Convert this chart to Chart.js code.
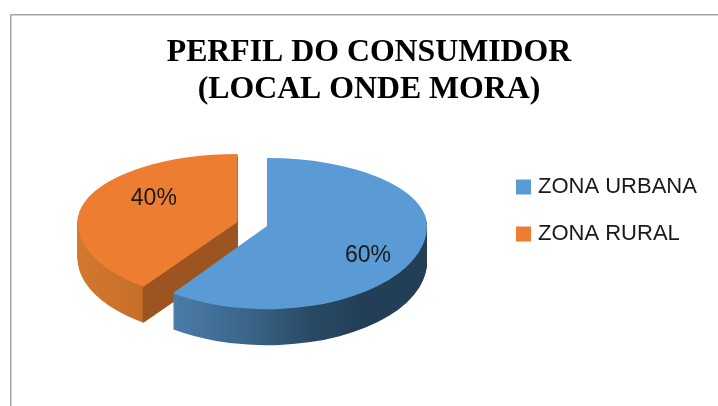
<!DOCTYPE html>
<html><head><meta charset="utf-8">
<style>html,body{margin:0;padding:0;background:#fff}canvas{display:block;filter:blur(0.4px)}</style>
<script src="https://cdn.jsdelivr.net/npm/chart.js@4"></script></head>
<body><div style="width:718px;height:406px"><canvas id="c" width="718" height="406"></canvas></div>
<script>
const titleLines = ["PERFIL DO CONSUMIDOR", "(LOCAL ONDE MORA)"];
const categories = ["ZONA URBANA", "ZONA RURAL"];
const values = [60, 40];
const sliceColors = ["#5b9bd5", "#ed7d31"];

const view = {cx:267, cy:226, up:0.425, down:[0.52,0.5], depth:36, explode:[0,31], nudge:[13,-12], labelAt:[0.664,0.55]};

const pie3d = {
  id:"pie3d",
  afterLayout(chart){
    chart.legend.left = 495;
    chart.legend.top = 151;
  },
  beforeDraw(chart){
    const c = chart.ctx;
    c.fillStyle="#a6a6a6";
    c.fillRect(10,14,1.5,392);
    c.fillRect(10,14,708,1.5);
  },
  beforeDatasetsDraw(chart){
    const ctx = chart.ctx, meta = chart.getDatasetMeta(0);
    const place = (el,i,ey,fill)=>{
      const mid = (el.startAngle+el.endAngle)/2;
      const ex = Math.cos(mid)*view.explode[i], ez = Math.sin(mid)*view.explode[i];
      const ax = view.cx+ex, ay = Math.round(view.cy+ez*view.up)+ey;
      const ghost = Object.create(el);
      ghost.options = Object.assign({}, el.options, {backgroundColor:fill, borderWidth:0});
      [[0,ay,view.up],[ay,406-ay,view.down[i]]].forEach(b=>{
        ctx.save();
        ctx.beginPath(); ctx.rect(0,b[0],718,b[1]); ctx.clip();
        ctx.translate(ax-el.x, ay);
        ctx.scale(1,b[2]);
        ctx.translate(0,-el.y);
        ghost.draw(ctx);
        ctx.restore();
      });
    };
    [1,0].forEach(i=>{
      const el = meta.data[i];
      const mid = (el.startAngle+el.endAngle)/2;
      const shift = view.cx - el.x + Math.cos(mid)*view.explode[i];
      const g = ctx.createLinearGradient(-shift,0,718-shift,0);
      const stops = i===0
        ? [[160,"#4d80ae"],[250,"#3a6488"],[310,"#294a65"],[360,"#233f57"],[430,"#233f57"]]
        : [[75,"#d2782f"],[142,"#c76e29"],[143.5,"#9c5420"],[240,"#9c5420"]];
      stops.forEach(s=>g.addColorStop(s[0]/718, s[1]));
      for(let d=view.depth;d>0;d--) place(el,i,d,g);
      place(el,i,0,sliceColors[i]);
    });
    return false;
  },
  afterDraw(chart){
    const ctx = chart.ctx, meta = chart.getDatasetMeta(0);
    const total = values.reduce((a,b)=>a+b,0);
    ctx.save();
    ctx.font = "23px 'Liberation Sans'"; ctx.fillStyle="#1a1a1a"; ctx.textAlign="center"; ctx.textBaseline="middle";
    meta.data.forEach((el,i)=>{
      const mid = (el.startAngle+el.endAngle)/2;
      const r = el.outerRadius*view.labelAt[i]+view.explode[i];
      const x = view.cx+Math.cos(mid)*r;
      const z = Math.sin(mid)*r;
      const y = view.cy+z*(z<0?view.up:view.down[i])+view.nudge[i];
      ctx.fillText(Math.round(values[i]/total*100)+"%",x,y);
    });
    ctx.restore();
  }
};
new Chart(document.getElementById("c"),{
  type:"pie",
  data:{labels:categories,datasets:[{data:values,backgroundColor:sliceColors,borderWidth:0}]},
  plugins:[pie3d],
  options:{
    responsive:false,animation:false,events:[],
    radius:160,
    layout:{padding:{left:20,top:0,right:0,bottom:0}},
    plugins:{
      tooltip:{enabled:false},
      title:{display:true,text:titleLines,color:"#000",font:{family:"Liberation Serif",size:31.8,weight:"bold",lineHeight:1.16},padding:{top:34,bottom:0}},
      legend:{position:"right",align:"start",labels:{
        boxWidth:7,boxHeight:7,padding:25,color:"#1a1a1a",font:{family:"Liberation Sans",size:22},
        generateLabels:c=>Chart.overrides.pie.plugins.legend.labels.generateLabels(c).map(l=>Object.assign(l,{lineWidth:8,strokeStyle:l.fillStyle}))
      }}
    }
  }
});
</script></body></html>
